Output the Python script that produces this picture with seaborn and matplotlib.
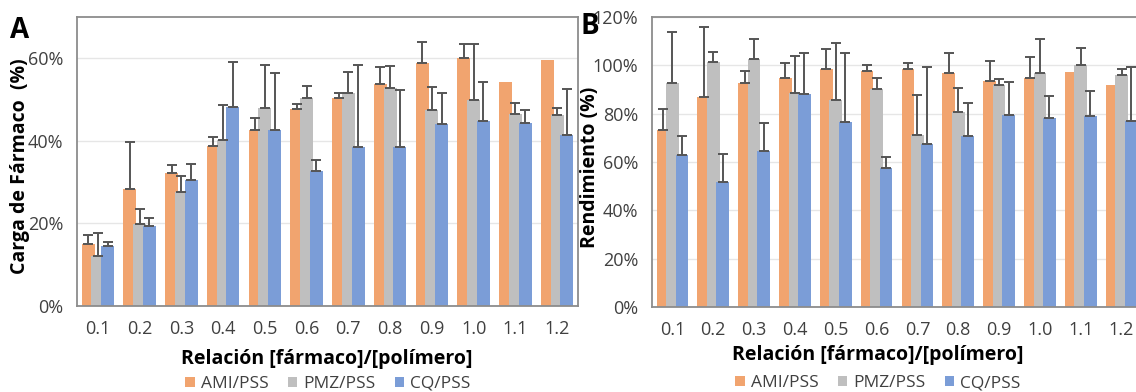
import numpy as np
import pandas as pd
import matplotlib
matplotlib.use("Agg")
import matplotlib.pyplot as plt
from matplotlib.patches import Patch
from matplotlib.ticker import FuncFormatter, MultipleLocator
import seaborn as sns

# ---- data (percent) ----
ratios = ["0.1", "0.2", "0.3", "0.4", "0.5", "0.6", "0.7", "0.8", "0.9", "1.0", "1.1", "1.2"]
series = ["AMI/PSS", "PMZ/PSS", "CQ/PSS"]

# Panel A: drug loading
carga_ami = [14.9, 28.4, 32.3, 38.8, 42.7, 47.7, 50.4, 53.7, 58.8, 60.0, 54.2, 59.6]
carga_ami_err = [2.2, 11.4, 1.9, 2.2, 2.8, 1.2, 1.1, 4.2, 5.1, 3.4, 0.0, 0.0]
carga_pmz = [12.0, 19.8, 27.7, 40.2, 47.9, 50.4, 51.6, 52.7, 47.5, 49.8, 46.5, 46.3]
carga_pmz_err = [5.8, 3.6, 3.9, 8.5, 10.4, 2.9, 5.1, 5.4, 5.5, 13.6, 2.7, 1.6]
carga_cq = [14.5, 19.3, 30.6, 48.2, 42.7, 32.8, 38.6, 38.4, 44.1, 44.8, 44.3, 41.5]
carga_cq_err = [0.9, 2.1, 3.9, 10.8, 13.7, 2.6, 19.8, 13.9, 7.5, 9.4, 3.2, 11.1]

# Panel B: yield
rend_ami = [73.3, 87.0, 92.8, 94.8, 98.5, 97.7, 98.5, 96.9, 93.6, 94.8, 97.3, 91.9]
rend_ami_err = [8.7, 29.0, 4.9, 6.2, 8.3, 2.5, 2.5, 8.3, 8.3, 8.7, 0.0, 0.0]
rend_pmz = [92.8, 101.4, 102.7, 88.6, 85.7, 90.3, 71.2, 80.7, 91.9, 96.9, 100.2, 96.1]
rend_pmz_err = [21.1, 4.2, 8.3, 15.3, 23.6, 4.5, 16.6, 10.0, 2.5, 14.1, 7.0, 2.4]
rend_cq = [62.9, 51.8, 64.6, 88.2, 76.6, 57.6, 67.5, 70.8, 79.5, 78.3, 79.1, 77.0]
rend_cq_err = [7.9, 11.6, 11.6, 17.0, 28.6, 4.5, 31.9, 13.7, 13.7, 9.1, 10.3, 22.4]

colors = ["#F1A46F", "#BFBFBF", "#7B9DD7"]
text_col = "#404040"

sns.set_theme(style="white")
plt.rcParams["font.family"] = ["Open Sans", "DejaVu Sans"]

W, H = 1136, 392
fig = plt.figure(figsize=(W / 100, H / 100), dpi=100)
axA = fig.add_axes([77 / W, 1 - 306 / H, 501 / W, 289 / H])
axB = fig.add_axes([652 / W, 1 - 307 / H, 490 / W, 290 / H])

STEP = 0.232
BAR_W = 0.31


def panel(ax, vals, errs, ymax):
    df = pd.DataFrame({
        "ratio": np.tile(ratios, len(series)),
        "serie": np.repeat(series, len(ratios)),
        "value": np.concatenate(vals),
        "err": np.concatenate(errs),
    })
    sns.barplot(data=df, x="ratio", y="value", hue="serie", order=ratios,
                hue_order=series, palette=colors, width=STEP * 3, dodge=True,
                saturation=1, errorbar=None, legend=False, ax=ax,
                edgecolor="none", linewidth=0)
    err_lookup = {(r, s): e for r, s, e in zip(df["ratio"], df["serie"], df["err"])}
    for p in ax.patches:
        cx = p.get_x() + p.get_width() / 2
        cat = int(round(cx))
        hue = int(round((cx - cat) / STEP)) + 1
        p.set_x(cx - BAR_W / 2)
        p.set_width(BAR_W)
        e = err_lookup[(ratios[cat], series[hue])]
        if e > 0:
            ax.errorbar(cx, p.get_height(), yerr=[[0], [e]], fmt="none",
                        ecolor="#555555", elinewidth=1.4, capsize=3.5,
                        capthick=1.4, zorder=4)
    ax.set_ylim(0, ymax)
    ax.set_xlim(-0.5, len(ratios) - 0.5)
    ax.yaxis.set_major_locator(MultipleLocator(20))
    ax.yaxis.set_major_formatter(FuncFormatter(lambda v, _: f"{int(round(v))}%"))
    ax.grid(axis="y", color="#E6E6E6", linewidth=1.0)
    ax.set_axisbelow(True)
    ax.set_xlabel("")
    ax.set_ylabel("")
    ax.tick_params(axis="both", length=0, labelsize=13, labelcolor=text_col)
    ax.tick_params(axis="x", pad=10)
    ax.tick_params(axis="y", pad=10)
    for sp in ax.spines.values():
        sp.set_visible(True)
        sp.set_color("#8C8C8C")
        sp.set_linewidth(1.3)


panel(axA, [carga_ami, carga_pmz, carga_cq],
      [carga_ami_err, carga_pmz_err, carga_cq_err], 70)
panel(axB, [rend_ami, rend_pmz, rend_cq],
      [rend_ami_err, rend_pmz_err, rend_cq_err], 120)

# panel letters
fig.text(20 / W, 1 - 30 / H, "A", fontsize=20, weight="bold", ha="center", va="center", color="black")
fig.text(590 / W, 1 - 27 / H, "B", fontsize=20, weight="bold", ha="center", va="center", color="black")

# axis titles
fig.text(20 / W, 1 - 166 / H, "Carga de Fármaco  (%)", rotation=90, fontsize=14,
         weight="bold", ha="center", va="center", color="black")
fig.text(590 / W, 1 - 167 / H, "Rendimiento (%)", rotation=90, fontsize=14,
         weight="bold", ha="center", va="center", color="black")
fig.text(327 / W, 1 - 359 / H, "Relación [fármaco]/[polímero]", fontsize=14,
         weight="bold", ha="center", va="center", color="black")
fig.text(878 / W, 1 - 355 / H, "Relación [fármaco]/[polímero]", fontsize=14,
         weight="bold", ha="center", va="center", color="black")

handles = [Patch(facecolor=c, edgecolor="none") for c in colors]
for cx, cy in [(328, 384), (878, 383)]:
    fig.legend(handles, series, loc="center", bbox_to_anchor=(cx / W, 1 - cy / H),
               ncol=3, frameon=False, fontsize=12.5, handlelength=0.55,
               handleheight=0.55, handletextpad=0.35, columnspacing=1.1,
               labelcolor=text_col, borderaxespad=0, borderpad=0)

fig.savefig("out.png", dpi=100)
